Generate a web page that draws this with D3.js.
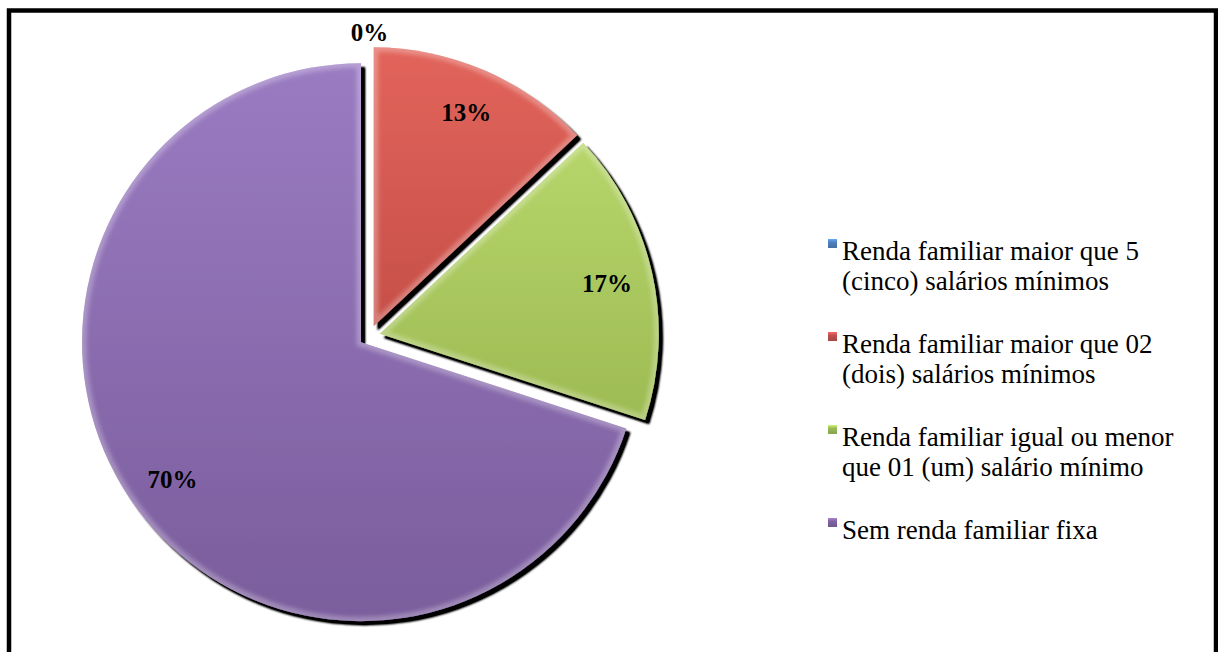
<!DOCTYPE html>
<html>
<head>
<meta charset="utf-8">
<script src="https://cdn.jsdelivr.net/npm/d3@7/dist/d3.min.js"></script>
<style>
  html, body { margin: 0; padding: 0; background: #fff; }
  svg { display: block; }
  text { font-family: "Liberation Serif", "Times New Roman", serif; fill: #000; }
</style>
</head>
<body>
<svg id="chart" width="1218" height="652"></svg>
<script>
// Renda familiar dos entrevistados (%)
const categories = [
  "Renda familiar maior que 5\n(cinco) salários mínimos",
  "Renda familiar maior que 02\n(dois) salários mínimos",
  "Renda familiar igual ou menor\nque 01 (um) salário mínimo",
  "Sem renda familiar fixa"
];
const values = [0, 13, 17, 70];
const valueLabels = ["0%", "13%", "17%", "70%"];

// Slice colours: [top, bottom] of the vertical gradient, plus the legend swatch colour
const sliceTop = ["#6f9bd6", "#e2645b", "#b6d56a", "#9a7bc2"];
const sliceBottom = ["#4672ad", "#c64f48", "#9dbb53", "#7a5d9c"];
const swatch = ["#4f81bd", "#c0504d", "#9bbb59", "#8064a2"];

const W = 1218, H = 652;
const cx = 369.5, cy = 336, R = 279, explode = 10.5;

const svg = d3.select("#chart");
const defs = svg.append("defs");

// chart frame
svg.append("rect")
  .attr("x", 9).attr("y", 10.5)
  .attr("width", 1207).attr("height", 700)
  .attr("fill", "#fff").attr("stroke", "#000").attr("stroke-width", 4.5);

// drop shadow
const sh = defs.append("filter").attr("id", "shadow")
  .attr("x", "-10%").attr("y", "-10%").attr("width", "130%").attr("height", "130%");
sh.append("feGaussianBlur").attr("in", "SourceAlpha").attr("stdDeviation", 1.1).attr("result", "b");
sh.append("feOffset").attr("in", "b").attr("dx", 4).attr("dy", 4).attr("result", "o");
sh.append("feComponentTransfer").attr("in", "o").attr("result", "s")
  .append("feFuncA").attr("type", "linear").attr("slope", 1.4);
const m = sh.append("feMerge");
m.append("feMergeNode").attr("in", "s");
m.append("feMergeNode").attr("in", "SourceGraphic");

const soft = defs.append("filter").attr("id", "soft");
soft.append("feGaussianBlur").attr("stdDeviation", 2.2);

const data = categories.map((c, i) => ({ category: c, value: values[i], label: valueLabels[i], i }));

const pie = d3.pie().sort(null).value(d => d.value).startAngle(0).endAngle(2 * Math.PI);
const arc = d3.arc().innerRadius(0).outerRadius(R);
const inLabel = d3.arc().innerRadius(R * 0.835).outerRadius(R * 0.835);
const outLabel = d3.arc().innerRadius(R + 14).outerRadius(R + 14);

const arcs = pie(data);

arcs.forEach((a, k) => {
  const g = defs.append("linearGradient").attr("id", "grad" + k)
    .attr("x1", 0).attr("y1", 0).attr("x2", 0).attr("y2", 1);
  g.append("stop").attr("offset", "0%").attr("stop-color", sliceTop[k]);
  g.append("stop").attr("offset", "100%").attr("stop-color", sliceBottom[k]);
  defs.append("clipPath").attr("id", "clip" + k)
    .append("path").attr("d", arc(a));
});

const offsetOf = a => {
  const mid = (a.startAngle + a.endAngle) / 2;
  return [cx + Math.sin(mid) * explode, cy - Math.cos(mid) * explode];
};

const slices = svg.append("g").selectAll("g.slice")
  .data(arcs.filter(a => a.data.value > 0))
  .join("g")
  .attr("class", "slice")
  .attr("transform", a => `translate(${offsetOf(a)})`);

const body = slices.append("g").attr("filter", "url(#shadow)");
body.append("path")
  .attr("d", arc)
  .attr("fill", a => `url(#grad${a.index})`);
// soft bevel rim along each slice edge
body.append("path")
  .attr("d", arc)
  .attr("fill", "none")
  .attr("stroke", "#fff")
  .attr("stroke-opacity", 0.28)
  .attr("stroke-width", 9)
  .attr("clip-path", a => `url(#clip${a.index})`)
  .attr("filter", "url(#soft)");

// value labels
svg.append("g").selectAll("text")
  .data(arcs)
  .join("text")
  .attr("transform", a => {
    const [ox, oy] = offsetOf(a);
    const [lx, ly] = (a.data.value > 0 ? inLabel : outLabel).centroid(a);
    return `translate(${ox + lx},${oy + ly})`;
  })
  .attr("text-anchor", "middle")
  .attr("dy", "0.35em")
  .attr("font-size", 25)
  .attr("font-weight", "bold")
  .text(a => a.data.label);

// legend
const legendX = 828, firstBase = 260, lineStep = 30, itemGap = 33;
const lgrad = defs.selectAll("linearGradient.lg")
  .data(swatch).join("linearGradient")
  .attr("class", "lg")
  .attr("id", (d, i) => "lg" + i)
  .attr("x1", 0).attr("y1", 0).attr("x2", 0).attr("y2", 1);
lgrad.append("stop").attr("offset", "0%").attr("stop-color", d => d3.color(d).brighter(0.8));
lgrad.append("stop").attr("offset", "35%").attr("stop-color", d => d);
lgrad.append("stop").attr("offset", "100%").attr("stop-color", d => d3.color(d).darker(0.4));

// stack entries: each one takes its own lines plus a fixed gap
let acc = firstBase;
const itemY = data.map(d => {
  const y = acc;
  acc += d.category.split("\n").length * lineStep + itemGap;
  return y;
});

const items = svg.append("g").selectAll("g.item")
  .data(data)
  .join("g")
  .attr("class", "item")
  .attr("transform", (d, i) => `translate(${legendX},${itemY[i]})`);

items.append("rect")
  .attr("x", 0).attr("y", -21)
  .attr("width", 9).attr("height", 9)
  .attr("fill", (d, i) => `url(#lg${i})`);

items.append("text")
  .attr("font-size", 27)
  .selectAll("tspan")
  .data(d => d.category.split("\n"))
  .join("tspan")
  .attr("x", 14)
  .attr("y", (t, j) => j * lineStep)
  .text(t => t);
</script>
</body>
</html>
